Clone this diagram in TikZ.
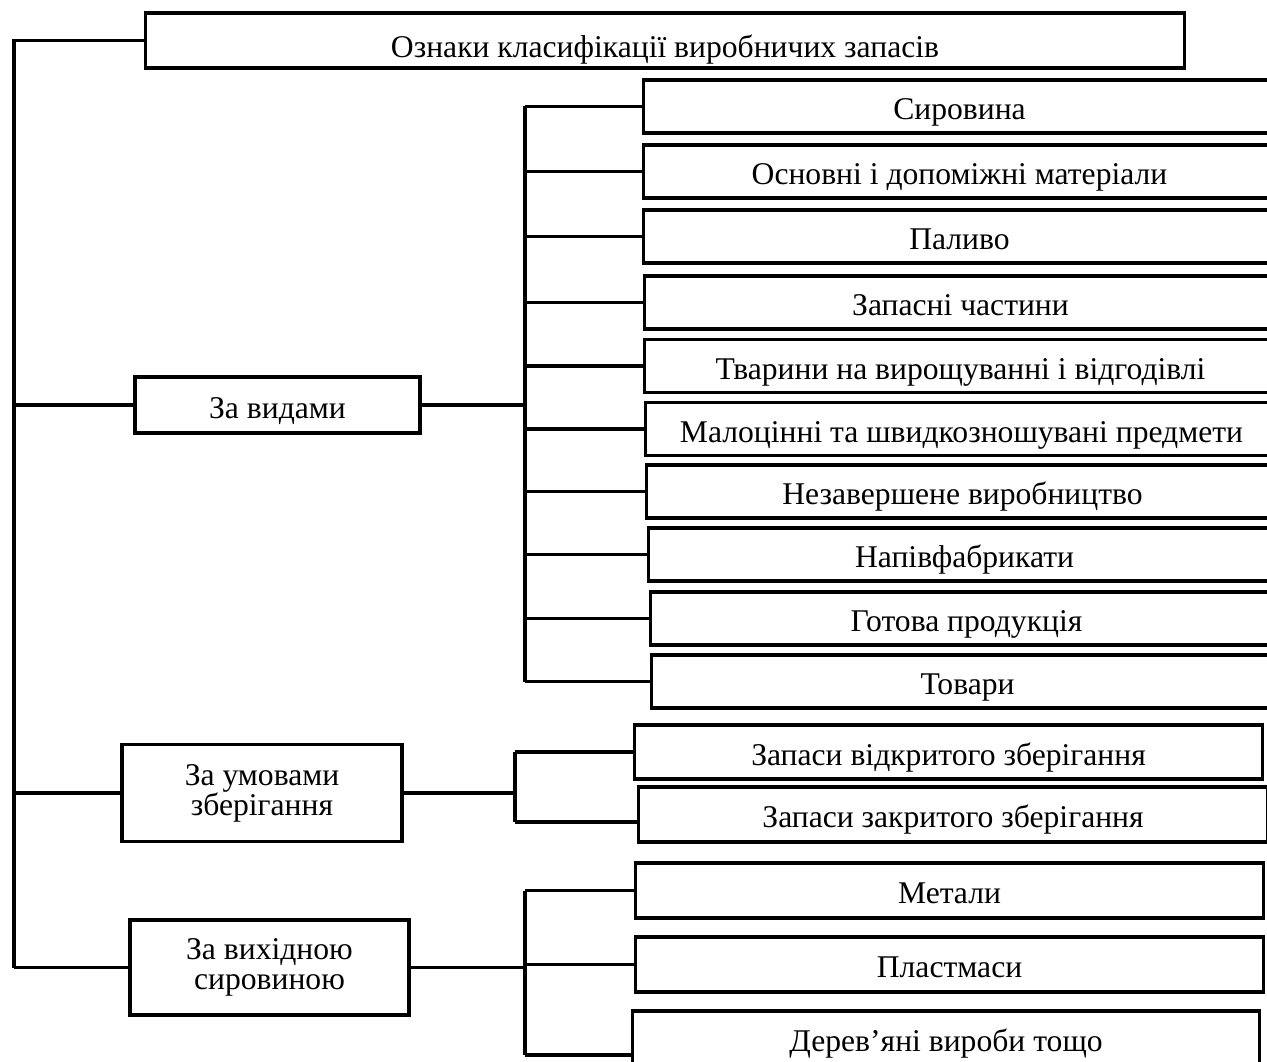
\documentclass[tikz,border=0pt]{standalone}
\usepackage{fontspec}
\setmainfont{Liberation Serif}
\usetikzlibrary{positioning}

\begin{document}
\begin{tikzpicture}[x=0.02cm,y=-0.02cm,
    box/.style={rectangle,draw,line width=1.8pt,inner sep=0pt,align=center,font=\fontsize{18}{17}\selectfont},
    head/.style={box,minimum width=20.8cm,minimum height=1.1cm,text height=0.7cm,text depth=0pt},
    group/.style={box,minimum width=5.6cm,minimum height=1.9cm},
    item/.style={box,anchor=west,minimum width=12.64cm,minimum height=1.06cm,text height=0.52cm,text depth=0pt},
    link/.style={line width=1.8pt}
]
\path[use as bounding box,clip] (0,0) rectangle (1267,1061);
% top
\node[head] (head) at (665,40.5) {Ознаки класифікації виробничих запасів};
% groups
\node[group,minimum width=5.7cm,minimum height=1.12cm,text height=0.52cm,text depth=0pt] (vid) at (277.5,405) {За видами};
\node[group,minimum height=1.94cm] (umov) at (262,793) {За умовами\\зберігання};
\node[group,minimum width=5.58cm] (vyh) at (269.5,967.5) {За вихідною\\сировиною};
% items
\node[item] (s1) at (642,106.5) {Сировина};
\node[item] (s2) at (642,171.5) {Основні і допоміжні матеріали};
\node[item] (s3) at (642,236.5) {Паливо};
\node[item] (s4) at (643,302.5) {Запасні частини};
\node[item] (s5) at (643,366) {Тварини на вирощуванні і відгодівлі};
\node[item] (s6) at (644,429) {Малоцінні та швидкозношувані предмети};
\node[item] (s7) at (645,491.5) {Незавершене виробництво};
\node[item] (s8) at (647,554.5) {Напівфабрикати};
\node[item] (s9) at (649,618.5) {Готова продукція};
\node[item] (s10) at (650,681.5) {Товари};
\node[item,minimum width=12.56cm,minimum height=1.08cm] (st1) at (633,752) {Запаси відкритого зберігання};
\node[item,minimum width=12.58cm,minimum height=1.1cm] (st2) at (637,814.5) {Запаси закритого зберігання};
\node[item,minimum width=12.56cm,minimum height=1.1cm] (r1) at (634,890.5) {Метали};
\node[item,minimum width=12.56cm,minimum height=1.1cm] (r2) at (634,964.5) {Пластмаси};
\node[item,minimum width=12.54cm,minimum height=1.08cm] (r3) at (631,1038) {Дерев’яні вироби тощо};
% bus points
\coordinate (spine) at (14,0);
\coordinate (vbus) at (525,0);
\coordinate (ubus) at (515,0);
\coordinate (ulow) at (515,822);
\coordinate (rbus) at (525,0);
\coordinate (rlow) at (525,1055);
% main spine
\draw[link] (head.west) -- (head.west -| spine) -- (vyh.west -| spine);
\draw[link] (vid.west -| spine) -- (vid.west);
\draw[link] (umov.west -| spine) -- (umov.west);
\draw[link] (vyh.west -| spine) -- (vyh.west);
% by kind
\draw[link] (vid.east) -- (vid.east -| vbus);
\draw[link] (s1.west -| vbus) -- (s10.west -| vbus);
\draw[link] (s1.west -| vbus) -- (s1.west);
\draw[link] (s2.west -| vbus) -- (s2.west);
\draw[link] (s3.west -| vbus) -- (s3.west);
\draw[link] (s4.west -| vbus) -- (s4.west);
\draw[link] (s5.west -| vbus) -- (s5.west);
\draw[link] (s6.west -| vbus) -- (s6.west);
\draw[link] (s7.west -| vbus) -- (s7.west);
\draw[link] (s8.west -| vbus) -- (s8.west);
\draw[link] (s9.west -| vbus) -- (s9.west);
\draw[link] (s10.west -| vbus) -- (s10.west);
% by storage
\draw[link] (umov.east) -- (umov.east -| ubus);
\draw[link] (st1.west -| ubus) -- (ulow);
\draw[link] (st1.west -| ubus) -- (st1.west);
\draw[link] (ulow) -- (ulow -| st2.west);
% by raw material
\draw[link] (vyh.east) -- (vyh.east -| rbus);
\draw[link] (r1.west -| rbus) -- (rlow);
\draw[link] (r1.west -| rbus) -- (r1.west);
\draw[link] (r2.west -| rbus) -- (r2.west);
\draw[link] (rlow) -- (rlow -| r3.west);
\end{tikzpicture}
\end{document}
